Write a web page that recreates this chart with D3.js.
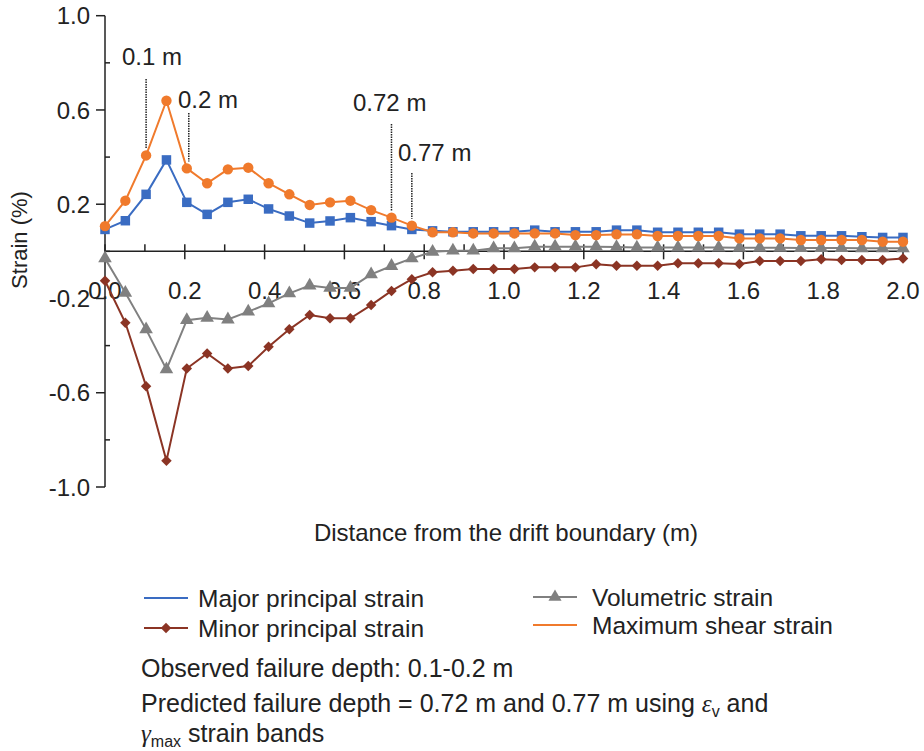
<!DOCTYPE html>
<html>
<head>
<meta charset="utf-8">
<script src="https://d3js.org/d3.v7.min.js"></script>
<style>
    body { margin: 0; background: #ffffff; }
    text { font-family: "Liberation Sans", Arial, sans-serif; fill: #222222; }
</style>
</head>
<body>
<div id="container"></div>
<script>
    // distance from the drift boundary (m), 40 nodes
    const distance = [0, 0.051, 0.103, 0.154, 0.205, 0.256, 0.308, 0.359, 0.41, 0.462,
        0.513, 0.564, 0.615, 0.667, 0.718, 0.769, 0.821, 0.872, 0.923, 0.974,
        1.026, 1.077, 1.128, 1.179, 1.231, 1.282, 1.333, 1.385, 1.436, 1.487,
        1.538, 1.59, 1.641, 1.692, 1.744, 1.795, 1.846, 1.897, 1.949, 2.0];

    const majorStrain = [0.093, 0.13, 0.242, 0.388, 0.208, 0.157, 0.208, 0.221, 0.18, 0.15,
        0.12, 0.129, 0.143, 0.126, 0.109, 0.093, 0.087, 0.083, 0.083, 0.083,
        0.083, 0.09, 0.083, 0.083, 0.083, 0.09, 0.09, 0.081, 0.081, 0.081,
        0.081, 0.073, 0.073, 0.073, 0.066, 0.066, 0.066, 0.062, 0.059, 0.059];

    const minorStrain = [-0.125, -0.303, -0.572, -0.889, -0.497, -0.433, -0.497, -0.487, -0.405, -0.331,
        -0.27, -0.284, -0.284, -0.228, -0.168, -0.118, -0.089, -0.082, -0.075, -0.075,
        -0.075, -0.068, -0.068, -0.068, -0.055, -0.061, -0.061, -0.061, -0.051, -0.051,
        -0.051, -0.054, -0.041, -0.041, -0.041, -0.034, -0.037, -0.037, -0.037, -0.03];

    const volumetricStrain = [-0.03, -0.176, -0.331, -0.501, -0.292, -0.282, -0.289, -0.256, -0.221, -0.178,
        -0.145, -0.155, -0.155, -0.098, -0.062, -0.03, -0.002, 0.003, 0.003, 0.013,
        0.013, 0.02, 0.02, 0.02, 0.02, 0.018, 0.016, 0.016, 0.016, 0.016,
        0.016, 0.015, 0.015, 0.015, 0.014, 0.014, 0.014, 0.013, 0.013, 0.013];

    const shearStrain = [0.107, 0.215, 0.407, 0.639, 0.352, 0.289, 0.348, 0.355, 0.289, 0.242,
        0.197, 0.208, 0.215, 0.175, 0.143, 0.109, 0.081, 0.081, 0.076, 0.076,
        0.076, 0.076, 0.076, 0.069, 0.069, 0.072, 0.072, 0.065, 0.065, 0.065,
        0.065, 0.055, 0.055, 0.055, 0.048, 0.048, 0.048, 0.048, 0.041, 0.041];

    const xTicks = [0, 0.2, 0.4, 0.6, 0.8, 1.0, 1.2, 1.4, 1.6, 1.8, 2.0];
    const yTicks = [1.0, 0.6, 0.2, -0.2, -0.6, -1.0];

    // failure depth markers
    const depthLabels = ["0.1 m", "0.2 m", "0.72 m", "0.77 m"];
    const depthIndex = [2, 4, 14, 15];

    const width = 924, height = 751;
    const fmt = d => d.toFixed(1);   // plain hyphen minus like the original

    const svg = d3.select("#container")
        .append("svg")
        .attr("width", width)
        .attr("height", height);

    const x = d3.scaleLinear().domain([0, 2]).range([105, 903]);
    const y = d3.scaleLinear().domain([-1, 1]).range([487, 15.7]);

    // Y axis: labelled ticks outside, minor ticks inside
    svg.append("line")
        .attr("x1", x(0)).attr("x2", x(0))
        .attr("y1", y(1)).attr("y2", y(-1))
        .attr("stroke", "#222").attr("stroke-width", 1.5);

    const yMinor = d3.range(-1, 1.01, 0.2);
    svg.selectAll(".ytick")
        .data(yMinor)
        .enter()
        .append("line")
        .attr("x1", d => yTicks.some(t => Math.abs(t - d) < 1e-6) ? x(0) - 9 : x(0))
        .attr("x2", d => yTicks.some(t => Math.abs(t - d) < 1e-6) ? x(0) : x(0) + 5)
        .attr("y1", d => y(d)).attr("y2", d => y(d))
        .attr("stroke", "#222").attr("stroke-width", 1.5);

    svg.selectAll(".ylabel")
        .data(yTicks)
        .enter()
        .append("text")
        .attr("x", 90)
        .attr("y", d => y(d))
        .attr("dy", "0.36em")
        .attr("text-anchor", "end")
        .style("font-size", "24px")
        .text(fmt);

    // X axis at zero
    svg.append("line")
        .attr("x1", x(0)).attr("x2", x(2))
        .attr("y1", y(0)).attr("y2", y(0))
        .attr("stroke", "#222").attr("stroke-width", 1.5);

    const xAll = d3.range(0, 2.001, 0.1);
    svg.selectAll(".xtick")
        .data(xAll)
        .enter()
        .append("line")
        .attr("x1", d => x(d)).attr("x2", d => x(d))
        .attr("y1", y(0) - 7)
        .attr("y2", d => xTicks.some(t => Math.abs(t - d) < 1e-6) ? y(0) + 8 : y(0))
        .attr("stroke", "#222").attr("stroke-width", 1.5);

    svg.selectAll(".xlabel")
        .data(xTicks)
        .enter()
        .append("text")
        .attr("x", d => x(d))
        .attr("y", 299)
        .attr("text-anchor", "middle")
        .style("font-size", "24px")
        .text(fmt);

    // axis titles
    svg.append("text")
        .attr("transform", "translate(27,240) rotate(-90)")
        .attr("text-anchor", "middle")
        .style("font-size", "22px")
        .text("Strain (%)");

    svg.append("text")
        .attr("x", 506)
        .attr("y", 541)
        .attr("text-anchor", "middle")
        .style("font-size", "24px")
        .text("Distance from the drift boundary (m)");

    // dotted lines for failure depths
    const depthTop = [79, 113, 124, 173];
    svg.selectAll(".depth")
        .data(depthIndex)
        .enter()
        .append("line")
        .attr("x1", (d, i) => x(distance[d]) + (i == 1 ? 2 : 0))
        .attr("x2", (d, i) => x(distance[d]) + (i == 1 ? 2 : 0))
        .attr("y1", (d, i) => depthTop[i])
        .attr("y2", d => y(shearStrain[d]) - 7)
        .attr("stroke", "#222")
        .attr("stroke-width", 1.5)
        .attr("stroke-dasharray", "1.5,1");

    const labelPos = [[122, 65], [178, 108], [353, 111], [398, 161]];
    svg.selectAll(".depthlabel")
        .data(depthLabels)
        .enter()
        .append("text")
        .attr("x", (d, i) => labelPos[i][0])
        .attr("y", (d, i) => labelPos[i][1])
        .style("font-size", "24px")
        .text(d => d);

    // series (diamonds are squares turned 45 degrees, as in Excel)
    const series = [
        {name: "Volumetric strain", values: volumetricStrain, color: "#808080", marker: d3.symbolTriangle, size: 80, rot: 0},
        {name: "Minor principal strain", values: minorStrain, color: "#8b3424", marker: d3.symbolSquare, size: 55, rot: 45},
        {name: "Major principal strain", values: majorStrain, color: "#3a6cc2", marker: d3.symbolSquare, size: 90, rot: 0},
        {name: "Maximum shear strain", values: shearStrain, color: "#f07a2c", marker: d3.symbolCircle, size: 85, rot: 0}
    ];

    const line = d3.line()
        .x((d, i) => x(distance[i]))
        .y(d => y(d));

    series.forEach(s => {
        svg.append("path")
            .datum(s.values)
            .attr("d", line)
            .attr("fill", "none")
            .attr("stroke", s.color)
            .attr("stroke-width", 2);

        svg.selectAll(null)
            .data(s.values)
            .enter()
            .append("path")
            .attr("transform", (d, i) => "translate(" + x(distance[i]) + "," + y(d) + ") rotate(" + s.rot + ")")
            .attr("d", d3.symbol().type(s.marker).size(s.size))
            .attr("fill", s.color);
    });

    // legend
    const legend = [
        {name: "Major principal strain", color: "#3a6cc2", marker: null, lx: 144, ly: 598, tx: 198},
        {name: "Minor principal strain", color: "#8b3424", marker: d3.symbolSquare, rot: 45, size: 55, lx: 144, ly: 628, tx: 198},
        {name: "Volumetric strain", color: "#808080", marker: d3.symbolTriangle, rot: 0, size: 75, lx: 533, ly: 597, tx: 592},
        {name: "Maximum shear strain", color: "#f07a2c", marker: null, lx: 533, ly: 625, tx: 592}
    ];

    legend.forEach(l => {
        svg.append("line")
            .attr("x1", l.lx).attr("x2", l.lx + 44)
            .attr("y1", l.ly).attr("y2", l.ly)
            .attr("stroke", l.color).attr("stroke-width", 2);
        if (l.marker) {
            svg.append("path")
                .attr("transform", "translate(" + (l.lx + 22) + "," + l.ly + ") rotate(" + l.rot + ")")
                .attr("d", d3.symbol().type(l.marker).size(l.size))
                .attr("fill", l.color);
        }
        svg.append("text")
            .attr("x", l.tx)
            .attr("y", l.ly)
            .attr("dy", "0.36em")
            .style("font-size", "24.5px")
            .text(l.name);
    });

    // notes
    svg.append("text")
        .attr("x", 141).attr("y", 677)
        .style("font-size", "25px")
        .text("Observed failure depth: 0.1-0.2 m");

    const note2 = svg.append("text")
        .attr("x", 141).attr("y", 712)
        .style("font-size", "25px");
    note2.append("tspan").text("Predicted failure depth = 0.72 m and 0.77 m using ");
    note2.append("tspan").style("font-style", "italic").style("font-family", "'Liberation Serif', serif").text("ε");
    note2.append("tspan").attr("dy", 5).style("font-size", "16px").text("v");
    note2.append("tspan").attr("dy", -5).text(" and");

    const note3 = svg.append("text")
        .attr("x", 141).attr("y", 742)
        .style("font-size", "25px");
    note3.append("tspan").style("font-style", "italic").style("font-family", "'Liberation Serif', serif").text("γ");
    note3.append("tspan").attr("dy", 5).style("font-size", "16px").text("max");
    note3.append("tspan").attr("dy", -5).text(" strain bands");
</script>
</body>
</html>
